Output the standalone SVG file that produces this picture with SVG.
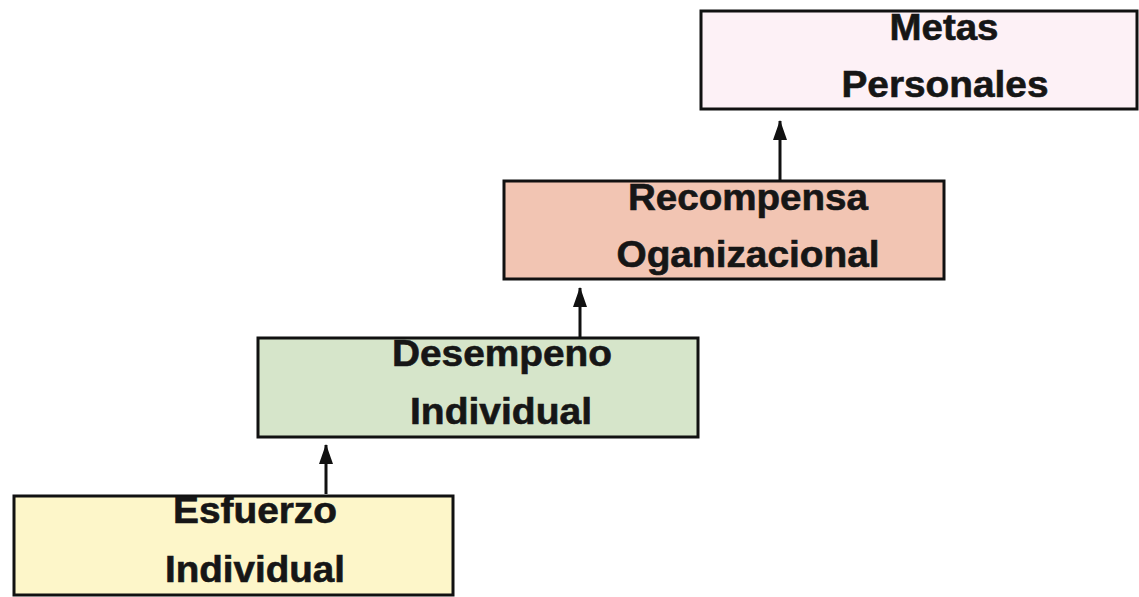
<svg xmlns="http://www.w3.org/2000/svg" width="1139" height="597" viewBox="0 0 1139 597">
  <style>
    .box { stroke: #111; stroke-width: 3; }
    .lbl { font-family: "Liberation Sans", Arial, sans-serif; font-weight: bold; font-size: 36px; fill: #161616; stroke: #161616; stroke-width: 0.6; text-anchor: middle; }
    .conn { stroke: #111; stroke-width: 3; fill: none; }
  </style>
  <defs>
    <marker id="arrow" viewBox="0 0 20 14" refX="19" refY="7" markerWidth="20" markerHeight="14" markerUnits="userSpaceOnUse" orient="auto">
      <path d="M0,0 L20,7 L0,14 Z" fill="#111"/>
    </marker>
  </defs>
  <rect width="1139" height="597" fill="#ffffff"/>

  <g id="connectors">
    <line class="conn" x1="780" y1="180" x2="780" y2="121" marker-end="url(#arrow)"/>
    <line class="conn" x1="580" y1="337" x2="580" y2="288" marker-end="url(#arrow)"/>
    <line class="conn" x1="326" y1="494" x2="326" y2="445" marker-end="url(#arrow)"/>
  </g>

  <g id="metas-personales">
    <rect class="box" x="701" y="11" width="436" height="98" fill="#fdf1f6"/>
    <text class="lbl" x="944" y="40" textLength="109" lengthAdjust="spacingAndGlyphs">Metas</text>
    <text class="lbl" x="945" y="97" textLength="207" lengthAdjust="spacingAndGlyphs">Personales</text>
  </g>

  <g id="recompensa-organizacional">
    <rect class="box" x="504" y="181" width="440" height="98" fill="#f2c5b3"/>
    <text class="lbl" x="748" y="210" textLength="240" lengthAdjust="spacingAndGlyphs">Recompensa</text>
    <text class="lbl" x="748" y="267" textLength="263" lengthAdjust="spacingAndGlyphs">Oganizacional</text>
  </g>

  <g id="desempeno-individual">
    <rect class="box" x="258" y="338" width="440" height="99" fill="#d6e5ca"/>
    <text class="lbl" x="502" y="366" textLength="220" lengthAdjust="spacingAndGlyphs">Desempeno</text>
    <text class="lbl" x="501" y="424" textLength="182" lengthAdjust="spacingAndGlyphs">Individual</text>
  </g>

  <g id="esfuerzo-individual">
    <rect class="box" x="14" y="496" width="439" height="99" fill="#fdf6c9"/>
    <text class="lbl" x="255" y="523" textLength="164" lengthAdjust="spacingAndGlyphs">Esfuerzo</text>
    <text class="lbl" x="255" y="582" textLength="180" lengthAdjust="spacingAndGlyphs">Individual</text>
  </g>
</svg>
